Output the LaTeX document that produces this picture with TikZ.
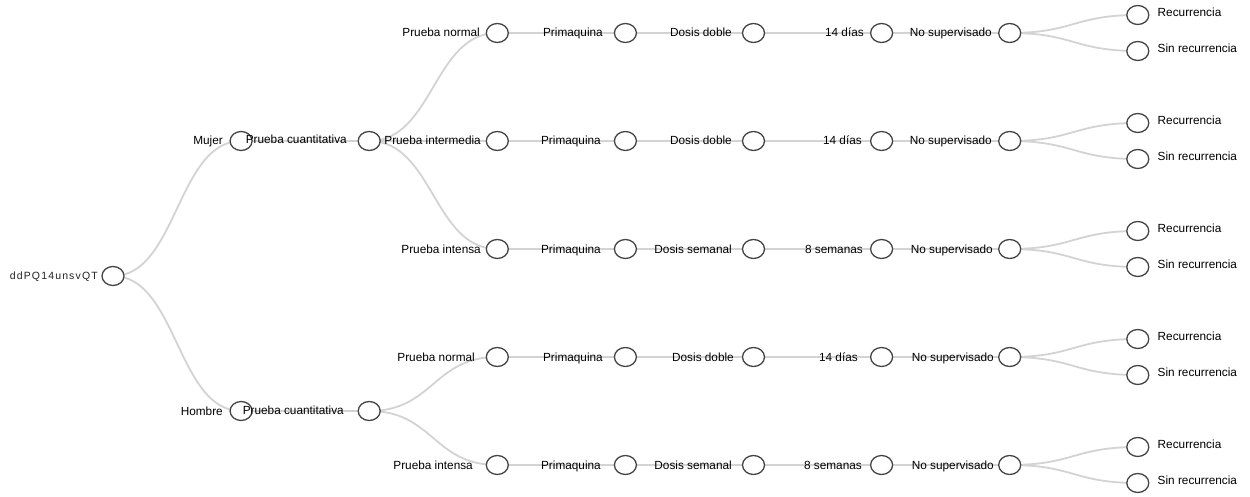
\documentclass[tikz,border=0pt]{standalone}
\usepackage{fontspec}
\setmainfont{Liberation Sans}
\newfontfamily\rootfont[LetterSpace=11]{Liberation Sans}
\usetikzlibrary{shapes.geometric,backgrounds}
\definecolor{linkgray}{HTML}{D3D3D3}
\definecolor{dotgray}{HTML}{444444}
\definecolor{rootink}{HTML}{222222}

% horizontal tree link: cubic with horizontal tangents, half a level apart
\newcommand\treelink[2]{\draw[link] (#1.center) .. controls +(64.05,0) and +(-64.05,0) .. (#2.center);}

\begin{document}
\begin{tikzpicture}[x=1pt,y=-1pt,
  dot/.style={ellipse, draw=dotgray, fill=white, line width=1.3pt,
              minimum width=22pt, minimum height=19pt, inner sep=0pt},
  link/.style={draw=linkgray, line width=1.8pt},
  lbl/.style={anchor=base east, inner sep=0pt, text=black,
              font=\fontsize{11.8}{14}\selectfont},
  leaflbl/.style={lbl, anchor=base west},
  rootlbl/.style={anchor=base east, inner sep=0pt, text=rootink,
              font=\rootfont\fontsize{10.5}{12}\selectfont}]
\useasboundingbox (0,0) rectangle (1250,497);

% tree nodes
\node[dot] (root) at (113,276) {};
\node[dot] (f)  at (241.1,141) {};
\node[dot] (m)  at (241.1,411) {};
\node[dot] (fq) at (369.2,141) {};
\node[dot] (mq) at (369.2,411) {};
\foreach \i/\y in {1/33,2/141,3/249,4/357,5/465} {
  \node[dot] (r\i-a) at (497.3,\y) {};
  \node[dot] (r\i-b) at (625.4,\y) {};
  \node[dot] (r\i-c) at (753.5,\y) {};
  \node[dot] (r\i-d) at (881.6,\y) {};
  \node[dot] (r\i-e) at (1009.7,\y) {};
  \node[dot] (r\i-y) at (1137.8,\y-18) {};
  \node[dot] (r\i-n) at (1137.8,\y+18) {};
}

% links behind the nodes
\begin{scope}[on background layer]
  \treelink{root}{f} \treelink{root}{m}
  \treelink{f}{fq}   \treelink{m}{mq}
  \treelink{fq}{r1-a} \treelink{fq}{r2-a} \treelink{fq}{r3-a}
  \treelink{mq}{r4-a} \treelink{mq}{r5-a}
  \foreach \i in {1,...,5} {
    \treelink{r\i-a}{r\i-b} \treelink{r\i-b}{r\i-c}
    \treelink{r\i-c}{r\i-d} \treelink{r\i-d}{r\i-e}
    \treelink{r\i-e}{r\i-y} \treelink{r\i-e}{r\i-n}
  }
\end{scope}

% labels
\node[rootlbl] (t-root) at (98,279.5) {ddPQ14unsvQT};
\node[lbl] (t-f)  at (223,145) {Mujer};
\node[lbl] (t-fq) at (347,144) {Prueba cuantitativa};
\node[lbl] (t-m)  at (223,415) {Hombre};
\node[lbl] (t-mq) at (344,414) {Prueba cuantitativa};
\foreach \i/\y/\ea/\eb/\ec/\ed/\ee/\ta/\tc/\td in {
    1/33/480/603/732/864/992/Prueba normal/Dosis doble/14 días,
    2/141/481/601/732/862/992/Prueba intermedia/Dosis doble/14 días,
    3/249/481/601/732/863/993/Prueba intensa/Dosis semanal/8 semanas,
    4/357/475/603/734/858/994/Prueba normal/Dosis doble/14 días,
    5/465/473/601/732/862/994/Prueba intensa/Dosis semanal/8 semanas} {
  \node[lbl] (t\i-a) at (\ea,\y+4) {\ta};
  \node[lbl] (t\i-b) at (\eb,\y+4) {Primaquina};
  \node[lbl] (t\i-c) at (\ec,\y+4) {\tc};
  \node[lbl] (t\i-d) at (\ed,\y+4) {\td};
  \node[lbl] (t\i-e) at (\ee,\y+4) {No supervisado};
  \node[leaflbl] (t\i-y) at (1157.5,\y-18+1.5) {Recurrencia};
  \node[leaflbl] (t\i-n) at (1157.5,\y+18+1.5) {Sin recurrencia};
}
\end{tikzpicture}
\end{document}
